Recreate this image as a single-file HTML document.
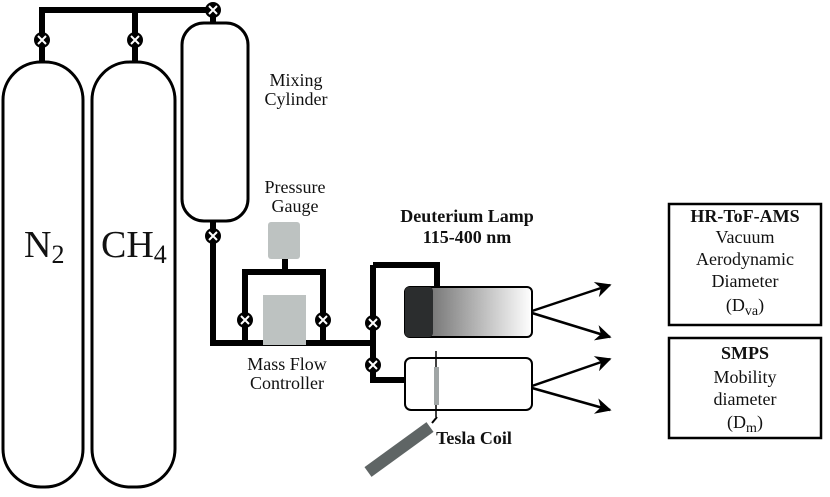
<!DOCTYPE html>
<html><head><style>
body{margin:0;background:#fff;}
text{font-family:"Liberation Serif","DejaVu Serif",serif;}
</style></head><body>
<svg width="830" height="497" viewBox="0 0 830 497" xmlns="http://www.w3.org/2000/svg" style="display:block">
<defs>
<linearGradient id="g" x1="0" x2="1"><stop offset="0" stop-color="#555"/><stop offset="1" stop-color="#fff"/></linearGradient>
<g id="v"><circle r="8" fill="#000"/><path d="M-4,-4L4,4M4,-4L-4,4" stroke="#fff" stroke-width="2"/></g>
<marker id="a" viewBox="0 0 10 10" refX="9" refY="5" markerWidth="20" markerHeight="16" markerUnits="userSpaceOnUse" orient="auto"><path d="M0,0L10,5L0,10L3,5Z" fill="#000"/></marker>
</defs>
<rect x="3" y="62" width="80" height="425" rx="38" fill="none" stroke="#000" stroke-width="3"/>
<rect x="92" y="62" width="83" height="425" rx="38" fill="none" stroke="#000" stroke-width="3"/>
<rect x="182" y="23" width="66" height="198" rx="22" fill="none" stroke="#000" stroke-width="3"/>
<g fill="none" stroke="#000" stroke-width="6">
<path d="M42,62V10H213V23M135,10V62"/>
<path d="M213,221V343H373M373,265V380H405M373,265H437V287"/>
<path d="M245,343V272H323V343M285,272V258"/>
</g>
<use href="#v" x="42" y="40"/><use href="#v" x="135" y="40"/>
<use href="#v" x="213" y="10"/><use href="#v" x="213" y="236"/>
<use href="#v" x="245" y="320"/><use href="#v" x="323" y="320"/>
<use href="#v" x="373" y="323"/><use href="#v" x="373" y="365"/>
<rect x="268" y="222" width="32" height="37" rx="3" fill="#bdc2c1"/>
<rect x="263" y="295" width="43" height="50" fill="#bdc2c1"/>
<rect x="405" y="287" width="127" height="50" rx="5" fill="url(#g)" stroke="#000" stroke-width="2"/>
<rect x="405" y="287" width="28" height="50" rx="4" fill="#2b2d2e"/>
<rect x="405" y="358" width="127" height="52" rx="6" fill="#fff" stroke="#000" stroke-width="2"/>
<line x1="436" y1="351" x2="436" y2="417" stroke="#000" stroke-width="1.5"/>
<rect x="434" y="367" width="5" height="38" fill="#a0a5a5"/>
<path d="M437,417L432,423" stroke="#000" stroke-width="2"/>
<line x1="430" y1="427" x2="368" y2="472" stroke="#5f6565" stroke-width="12"/>
<g stroke="#000" stroke-width="2.5" marker-end="url(#a)">
<path d="M532,311L610,285"/><path d="M532,313L610,337"/>
<path d="M532,386L610,359"/><path d="M532,388L610,410"/>
</g>
<rect x="669" y="204" width="152" height="121" fill="none" stroke="#000" stroke-width="2.5"/>
<rect x="669" y="338" width="152" height="100" fill="none" stroke="#000" stroke-width="2.5"/>
<g font-size="18" text-anchor="middle" fill="#111" font-family="Liberation Serif, serif">
<text x="296" y="86">Mixing</text><text x="296" y="105">Cylinder</text>
<text x="295" y="193">Pressure</text><text x="295" y="212">Gauge</text>
<text x="287" y="370">Mass Flow</text><text x="287" y="389">Controller</text>
<text x="745" y="222" font-weight="bold">HR-ToF-AMS</text>
<text x="745" y="243">Vacuum</text><text x="745" y="265">Aerodynamic</text>
<text x="745" y="287">Diameter</text><text x="745" y="311">(D<tspan font-size="14" dy="4">va</tspan><tspan dy="-4">)</tspan></text>
<text x="745" y="359" font-weight="bold">SMPS</text>
<text x="745" y="383">Mobility</text><text x="745" y="405">diameter</text>
<text x="745" y="428">(D<tspan font-size="14" dy="4">m</tspan><tspan dy="-4">)</tspan></text>
<text x="467" y="222" font-weight="bold">Deuterium Lamp</text>
<text x="467" y="243" font-weight="bold">115-400 nm</text>
<text x="474" y="444" font-weight="bold">Tesla Coil</text>
</g>
<g font-size="38" fill="#111" font-family="Liberation Serif, serif">
<text x="24" y="257">N<tspan font-size="26" dy="6">2</tspan></text>
<text x="101" y="257">CH<tspan font-size="26" dy="6">4</tspan></text>
</g>
</svg>
</body></html>
